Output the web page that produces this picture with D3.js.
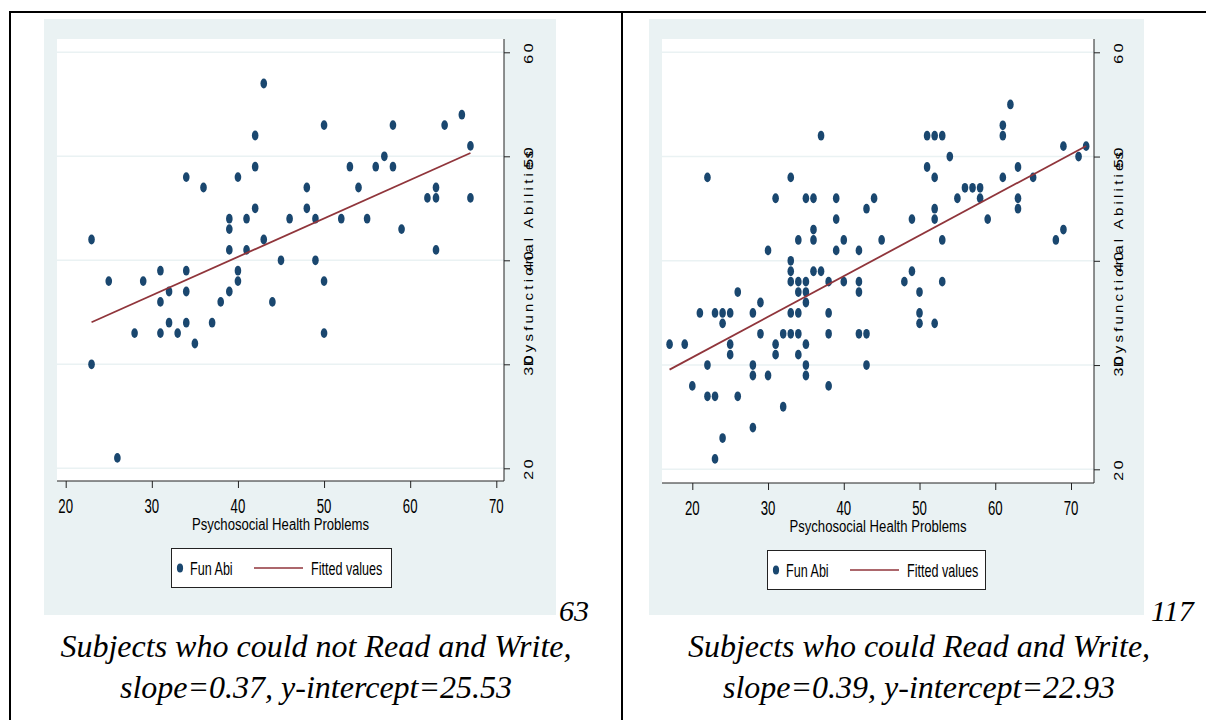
<!DOCTYPE html>
<html>
<head>
<meta charset="utf-8">
<script src="https://cdn.jsdelivr.net/npm/d3@7"></script>
<style>
  body { margin: 0; background: #fff; }
  svg { display: block; }
</style>
</head>
<body>
<svg id="chart" width="1206" height="720"></svg>
<script>
const xTicks = [20, 30, 40, 50, 60, 70];
const yTicks = [20, 30, 40, 50, 60];
const xTitle = "Psychosocial Health Problems";
const yTitle = "Dysfunctional Abilities";
const legendLabels = ["Fun Abi", "Fitted values"];

// subjects who could not read and write (n = 63)
const noReadX = [23, 23, 25, 26, 28, 29, 31, 31, 31, 32, 32, 33, 34, 34, 34, 34, 35, 36, 37, 38,
  39, 39, 39, 39, 40, 40, 40, 41, 41, 42, 42, 42, 43, 43, 44, 45, 46, 48, 48, 49,
  49, 50, 50, 50, 52, 53, 54, 55, 56, 57, 58, 58, 59, 62, 63, 63, 63, 64, 66, 67, 67];
const noReadY = [42, 30, 38, 21, 33, 38, 39, 36, 33, 37, 34, 33, 48, 39, 37, 34, 32, 47, 34, 36,
  44, 43, 41, 37, 48, 39, 38, 44, 41, 52, 49, 45, 57, 42, 36, 40, 44, 47, 45, 44,
  40, 53, 38, 33, 44, 49, 47, 44, 49, 50, 53, 49, 43, 46, 47, 46, 41, 53, 54, 51, 46];

// subjects who could read and write (n = 117)
const readX = [17, 19, 20, 21, 22, 22, 22, 23, 23, 23, 24, 24, 24, 25, 25, 25, 26, 26,
  28, 28, 28, 28, 29, 29, 30, 30, 31, 31, 31, 32, 32,
  33, 33, 33, 33, 33, 33, 34, 34, 34, 34, 34, 34, 35, 35, 35, 35, 35, 35, 35,
  36, 36, 36, 36, 37, 37, 38, 38, 38, 38, 39, 39, 39, 40, 40, 42, 42, 42, 42,
  43, 43, 43, 44, 45, 48, 49, 49, 50, 50, 50, 51, 51, 52, 52, 52, 52, 52,
  53, 53, 53, 54, 55, 56, 57, 58, 58, 59, 61, 61, 61, 62, 63, 63, 63, 65, 68, 69, 69, 71, 72];
const readY = [32, 32, 28, 35, 48, 30, 27, 35, 27, 21, 35, 34, 23, 35, 32, 31, 37, 27,
  35, 30, 29, 24, 36, 33, 41, 29, 46, 32, 31, 33, 26,
  48, 40, 39, 38, 35, 33, 42, 38, 37, 35, 33, 31, 46, 38, 37, 36, 32, 30, 29,
  46, 43, 42, 39, 52, 39, 38, 35, 33, 28, 46, 44, 41, 42, 38, 41, 38, 37, 33,
  45, 33, 30, 46, 42, 38, 44, 39, 37, 35, 34, 52, 49, 52, 48, 45, 44, 34,
  52, 42, 38, 50, 46, 47, 47, 47, 46, 44, 53, 52, 48, 55, 49, 46, 45, 48, 42, 51, 43, 50, 51];

const slopes = [0.37, 0.39];
const intercepts = [25.53, 22.93];
const counts = ["63", "117"];
const captionLines = [
  ["Subjects who could not Read and Write,", "slope=0.37, y-intercept=25.53"],
  ["Subjects who could Read and Write,", "slope=0.39, y-intercept=22.93"]
];

// page layout (pixels)
const panels = [
  { xs: noReadX, ys: noReadY, bg: [44, 19, 556, 615], plot: [57, 39, 504, 481],
    xRange: [65.7, 496.3], yRange: [468.3, 52.3], legend: [171, 548, 220, 39],
    count: [559, 621], captionX: 316 },
  { xs: readX, ys: readY, bg: [649, 19, 1144, 615], plot: [662, 39, 1094, 483],
    xRange: [692.3, 1071], yRange: [469.3, 52.3], legend: [767, 550, 218, 39],
    count: [1151, 621], captionX: 919 }
];

const navy = "#1a476f";
const maroon = "#90353b";
const bgColor = "#eaf2f3";
const sans = "'Liberation Sans', Arial, sans-serif";
const serif = "'Liberation Serif', 'Times New Roman', serif";

const svg = d3.select("#chart");

// text squeezed horizontally, like the narrow Stata export
function sqText(parent, x, y, str, size, kx, anchor) {
  return parent.append("text")
    .attr("transform", `translate(${x},${y}) scale(${kx},1)`)
    .attr("text-anchor", anchor || "middle")
    .attr("font-family", sans)
    .attr("font-size", size)
    .attr("fill", "#000")
    .text(str);
}

// rotated text on the right axis, squeezed across
function vText(parent, x, y, str, size, spacing) {
  return parent.append("text")
    .attr("transform", `translate(${x},${y}) rotate(-90) scale(1,0.85)`)
    .attr("text-anchor", "middle")
    .attr("font-family", sans)
    .attr("font-size", size)
    .attr("letter-spacing", spacing)
    .attr("fill", "#000")
    .text(str);
}

function drawPanel(p, i) {
  const g = svg.append("g");
  const [px0, py0, px1, py1] = p.plot;

  g.append("rect")
    .attr("x", p.bg[0]).attr("y", p.bg[1])
    .attr("width", p.bg[2] - p.bg[0]).attr("height", p.bg[3] - p.bg[1])
    .attr("fill", bgColor);

  g.append("rect")
    .attr("x", px0).attr("y", py0)
    .attr("width", px1 - px0).attr("height", py1 - py0)
    .attr("fill", "#fff");

  const x = d3.scaleLinear().domain([20, 70]).range(p.xRange);
  const y = d3.scaleLinear().domain([20, 60]).range(p.yRange);

  // gridlines
  g.selectAll(".grid")
    .data(yTicks)
    .join("line")
    .attr("x1", px0).attr("x2", px1)
    .attr("y1", (d) => y(d)).attr("y2", (d) => y(d))
    .attr("stroke", bgColor)
    .attr("stroke-width", 1.6);

  // bottom axis
  const xAxis = g.append("g")
    .attr("transform", `translate(0,${py1})`)
    .call(d3.axisBottom(x).tickValues(xTicks).tickSize(7).tickFormat(""));
  xAxis.select(".domain").attr("d", `M${px0},0H${px1}`).attr("stroke", "#222");
  xAxis.selectAll(".tick line").attr("stroke", "#222");
  xTicks.forEach((t) => sqText(g, x(t), py1 + 32, t, 20, 0.66));

  // right axis
  const yAxis = g.append("g")
    .attr("transform", `translate(${px1},0)`)
    .call(d3.axisRight(y).tickValues(yTicks).tickSize(6).tickFormat(""));
  yAxis.select(".domain").attr("d", `M0,${py0}V${py1}`).attr("stroke", "#222");
  yAxis.selectAll(".tick line").attr("stroke", "#222");
  yTicks.forEach((t) => vText(g, px1 + 28.5, y(t), t, 16, 2.5));

  // axis titles
  sqText(g, (px0 + px1) / 2, py1 + 49, xTitle, 16, 0.82);
  vText(g, px1 + 28.5, (py0 + py1) / 2 - 3, yTitle, 15, 3.2);

  // points
  const pts = p.xs.map((v, k) => ({ x: v, y: p.ys[k] }));
  g.append("g")
    .selectAll("ellipse")
    .data(pts)
    .join("ellipse")
    .attr("cx", (d) => x(d.x))
    .attr("cy", (d) => y(d.y))
    .attr("rx", 3.3)
    .attr("ry", 4.9)
    .attr("fill", navy);

  // fitted line
  const [xmin, xmax] = d3.extent(p.xs);
  const fit = (v) => intercepts[i] + slopes[i] * v;
  g.append("path")
    .datum([xmin, xmax])
    .attr("d", d3.line().x((d) => x(d)).y((d) => y(fit(d))))
    .attr("stroke", maroon)
    .attr("stroke-width", 1.8)
    .attr("fill", "none");

  // legend
  const [lx, ly, lw, lh] = p.legend;
  const lg = g.append("g").attr("transform", `translate(${lx},${ly})`);
  lg.append("rect")
    .attr("x", 0.5).attr("y", 0.5)
    .attr("width", lw).attr("height", lh)
    .attr("fill", "#fff")
    .attr("stroke", "#222");
  lg.append("ellipse")
    .attr("cx", 9).attr("cy", lh / 2 + 0.5)
    .attr("rx", 3.1).attr("ry", 4.6)
    .attr("fill", navy);
  sqText(lg, 19, lh / 2 + 7, legendLabels[0], 18, 0.7, "start");
  lg.append("line")
    .attr("x1", 83).attr("x2", 132)
    .attr("y1", lh / 2 + 0.5).attr("y2", lh / 2 + 0.5)
    .attr("stroke", maroon)
    .attr("stroke-width", 1.6);
  sqText(lg, 140, lh / 2 + 7, legendLabels[1], 18, 0.7, "start");

  // sample size beside the graph
  svg.append("text")
    .attr("x", p.count[0]).attr("y", p.count[1])
    .attr("font-family", serif)
    .attr("font-style", "italic")
    .attr("font-size", 30)
    .text(counts[i]);

  // caption under the graph
  captionLines[i].forEach((line, k) => {
    svg.append("text")
      .attr("x", p.captionX).attr("y", 657 + k * 41)
      .attr("text-anchor", "middle")
      .attr("font-family", serif)
      .attr("font-style", "italic")
      .attr("font-size", 32)
      .text(line);
  });
}

panels.forEach(drawPanel);

// table borders
svg.append("line").attr("x1", 9).attr("x2", 1206).attr("y1", 12).attr("y2", 12)
  .attr("stroke", "#000").attr("stroke-width", 2);
svg.append("line").attr("x1", 10).attr("x2", 10).attr("y1", 11).attr("y2", 720)
  .attr("stroke", "#000").attr("stroke-width", 2);
svg.append("line").attr("x1", 622).attr("x2", 622).attr("y1", 11).attr("y2", 720)
  .attr("stroke", "#000").attr("stroke-width", 2);
</script>
</body>
</html>
